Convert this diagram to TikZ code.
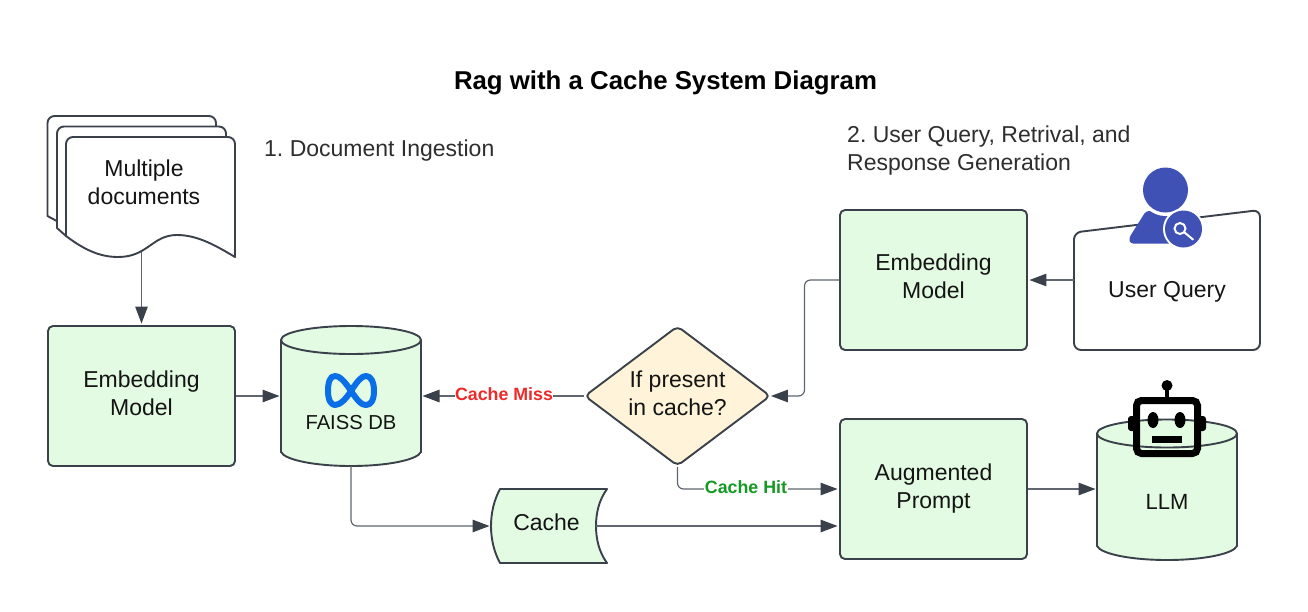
\documentclass[tikz,border=0pt]{standalone}
\usepackage{fontspec}
\setmainfont{Liberation Sans}
\usetikzlibrary{arrows.meta,shapes.geometric,calc}
\definecolor{edgeC}{HTML}{3A414A}
\definecolor{lineC}{HTML}{5F6670}
\definecolor{greenF}{HTML}{E3FAE3}
\definecolor{creamF}{HTML}{FFF3D9}
\definecolor{userB}{HTML}{3F51B5}
\definecolor{metaB}{HTML}{0A6FE6}
\definecolor{inkC}{HTML}{141414}
\definecolor{headC}{HTML}{2E2E2E}
\definecolor{missC}{HTML}{EE2A2A}
\definecolor{hitC}{HTML}{149A22}
\newcommand{\bodyfont}{\fontsize{23}{28}\selectfont}
\frenchspacing
\tikzset{
  outline/.style={draw=edgeC,line width=1.9pt,line join=round},
  greenbox/.style={outline,fill=greenF,rounded corners=5pt,minimum width=187pt,minimum height=140pt,inner sep=0pt},
  decbox/.style={outline,fill=creamF,shape=diamond,aspect=1.33,rounded corners=5pt,minimum width=186pt,minimum height=140pt,inner sep=0pt},
  ghost/.style={inner sep=0pt,outer sep=0pt},
  txt/.style={inner sep=0pt,align=center,text=inkC,font=\bodyfont},
  head/.style={inner sep=0pt,align=left,text=headC,font=\bodyfont},
  edgelabel/.style={inner sep=0.5pt,fill=white,font=\fontsize{17.8}{20}\selectfont\bfseries},
  conn/.style={draw=lineC,line width=1.2pt,rounded corners=6pt,-{Triangle[length=17pt,width=12.5pt,color=edgeC,fill=edgeC]},shorten >=1.5pt},
}
\begin{document}
\begin{tikzpicture}[x=1pt,y=-1pt]
\useasboundingbox (0,0) rectangle (1308,611);
\fill[white] (0,0) rectangle (1308,611);
% title and headings
\node[inner sep=0pt,text=black,font=\fontsize{25.8}{30}\selectfont\bfseries] (title) at (665.5,83) {Rag with a Cache System Diagram};
\node[head,anchor=west] (h1) at (264,151) {1. Document Ingestion};
\node[head,anchor=west] (h2) at (847,150.5) {2. User Query, Retrival, and\\Response Generation};
% document stack
\begin{scope}[outline,fill=white]
\filldraw (47.5,216) -- (47.5,123) arc[start angle=180,end angle=270,radius=7] -- (209,116) arc[start angle=-90,end angle=0,radius=7] -- (216,200) -- (66,226) -- cycle;
\filldraw (57,228) -- (57,133.5) arc[start angle=180,end angle=270,radius=7] -- (219,126.5) arc[start angle=-90,end angle=0,radius=7] -- (226,210) -- (66,236) -- cycle;
\filldraw (66,236) -- (66,144) arc[start angle=180,end angle=270,radius=7] -- (228,137) arc[start angle=-90,end angle=0,radius=7] -- (235,257)
  .. controls (215,245) and (197,235) .. (177,235)
  .. controls (152,235) and (148,257) .. (118,257)
  .. controls (98,257) and (82,248) .. (66,236) -- cycle;
\end{scope}
\node[ghost,minimum width=169pt,minimum height=115pt] (doc) at (150.5,194.5) {};
\node[txt] (doclabel) at (144,182) {Multiple\\documents};
% rectangles
\node[greenbox] (emb1) at (141.5,396) {};
\node[txt] (emb1label) at (141.5,393) {Embedding\\Model};
\node[greenbox] (emb2) at (933.5,280) {};
\node[txt] (emb2label) at (933.5,276.5) {Embedding\\Model};
\node[greenbox] (aug) at (933.5,489) {};
\node[txt] (auglabel) at (933.5,489) {Augmented\\Prompt};
% FAISS cylinder
\filldraw[outline,fill=greenF] (281,340) -- (281,452) .. controls (285,460) and (315,466) .. (351,466) .. controls (387,466) and (417,460) .. (421,452) -- (421,340) arc[start angle=0,end angle=-180,x radius=70,y radius=14] -- cycle;
\draw[outline] (281,340) arc[start angle=180,end angle=0,x radius=70,y radius=14];
\node[ghost,minimum width=140pt,minimum height=140pt] (faiss) at (351,396) {};
\draw[metaB,line width=6pt,line cap=round,line join=round] (351,391)
  .. controls (344,380) and (339,376) .. (335,376)
  .. controls (330,376) and (328,382) .. (328,391)
  .. controls (328,400) and (331,405) .. (335,405)
  .. controls (340,405) and (346,399) .. (351,391)
  .. controls (358,380) and (362,376) .. (366,376)
  .. controls (371,376) and (374,382) .. (374,391)
  .. controls (374,400) and (371,405) .. (366,405)
  .. controls (361,405) and (358,401) .. (351,391);
\node[txt,font=\fontsize{20.2}{24}\selectfont] (faisslabel) at (351,422.5) {FAISS DB};
% decision
\node[decbox] (dec) at (677.5,396) {};
\node[txt] (declabel) at (677.5,393) {If present\\in cache?};
% cache
\filldraw[outline,fill=greenF] (500,489) -- (607,489) .. controls (599,500) and (596,513) .. (596,526) .. controls (596,539) and (599,552) .. (607,563) -- (500,563) .. controls (494,552) and (491,539) .. (491,526) .. controls (491,513) and (494,500) .. (500,489) -- cycle;
\node[ghost,minimum width=105pt,minimum height=74pt] (cache) at (543.5,526) {};
\node[txt] (cachelabel) at (546.5,522) {Cache};
% user query
\filldraw[outline,fill=white,rounded corners=7pt] (1074,232.5) -- (1260,210) -- (1260,350) -- (1074,350) -- cycle;
\node[ghost,minimum width=186pt,minimum height=140pt] (user) at (1167,280) {};
\node[txt] (userlabel) at (1167,292) {User Query};
\fill[userB,rounded corners=3pt] (1130,243.5) -- (1129,238) -- (1146,211) -- (1190,211) -- (1190,243.5) -- cycle;
\fill[white] (1165.5,190) circle[radius=26];
\fill[userB] (1165.5,190) circle[radius=22.5];
\fill[white] (1183.5,229) circle[radius=20.5];
\fill[userB] (1183.5,229) circle[radius=18.5];
\draw[white,line width=2pt] (1180,228.5) circle[radius=5.5];
\draw[white,line width=2pt,line cap=round] (1184.5,232.5) -- (1193,239.5);
% LLM cylinder
\filldraw[outline,fill=greenF] (1097,433.5) -- (1097,546) .. controls (1101,554) and (1131,560) .. (1167,560) .. controls (1203,560) and (1233,554) .. (1237,546) -- (1237,433.5) arc[start angle=0,end angle=-180,x radius=70,y radius=14] -- cycle;
\draw[outline] (1097,433.5) arc[start angle=180,end angle=0,x radius=70,y radius=14];
\node[ghost,minimum width=140pt,minimum height=140pt] (llm) at (1167,489) {};
\node[txt,font=\fontsize{22}{26}\selectfont] (llmlabel) at (1167,502) {LLM};
% robot
\fill[black] (1167,385.5) circle[radius=5.5];
\draw[black,line width=3.5pt] (1167,388) -- (1167,397);
\fill[black,rounded corners=3pt] (1128,416) rectangle (1136,431);
\fill[black,rounded corners=3pt] (1198,416) rectangle (1206,431);
\draw[black,line width=7pt,rounded corners=5pt] (1136.5,400.5) rectangle (1197.5,453.5);
\fill[black] (1153,420) ellipse[x radius=5.5,y radius=8];
\fill[black] (1180,420) ellipse[x radius=5.5,y radius=8];
\fill[black] (1152,436) rectangle (1182,442.5);
% connectors
\coordinate (bend) at (804.5,340);
\draw[conn] (emb1.north |- doc.south) -- (emb1.north);
\draw[conn] (emb1.east) -- (faiss.west);
\draw[conn] (user.west) -- (emb2.east);
\draw[conn] (emb2.west) -| (bend) |- ([xshift=-2]dec.east);
\draw[conn] (dec.west) -- (faiss.east);
\draw[conn] (dec.south) |- (aug.west);
\draw[conn] (faiss.south) |- (cache.west);
\draw[conn] (cache.east) -- (aug.west |- cache.east);
\draw[conn] (aug.east) -- (llm.west |- aug.east);
\node[edgelabel,text=missC] (miss) at (504,394) {Cache Miss};
\node[edgelabel,text=hitC] (hit) at (746,487) {Cache Hit};
\end{tikzpicture}
\end{document}
